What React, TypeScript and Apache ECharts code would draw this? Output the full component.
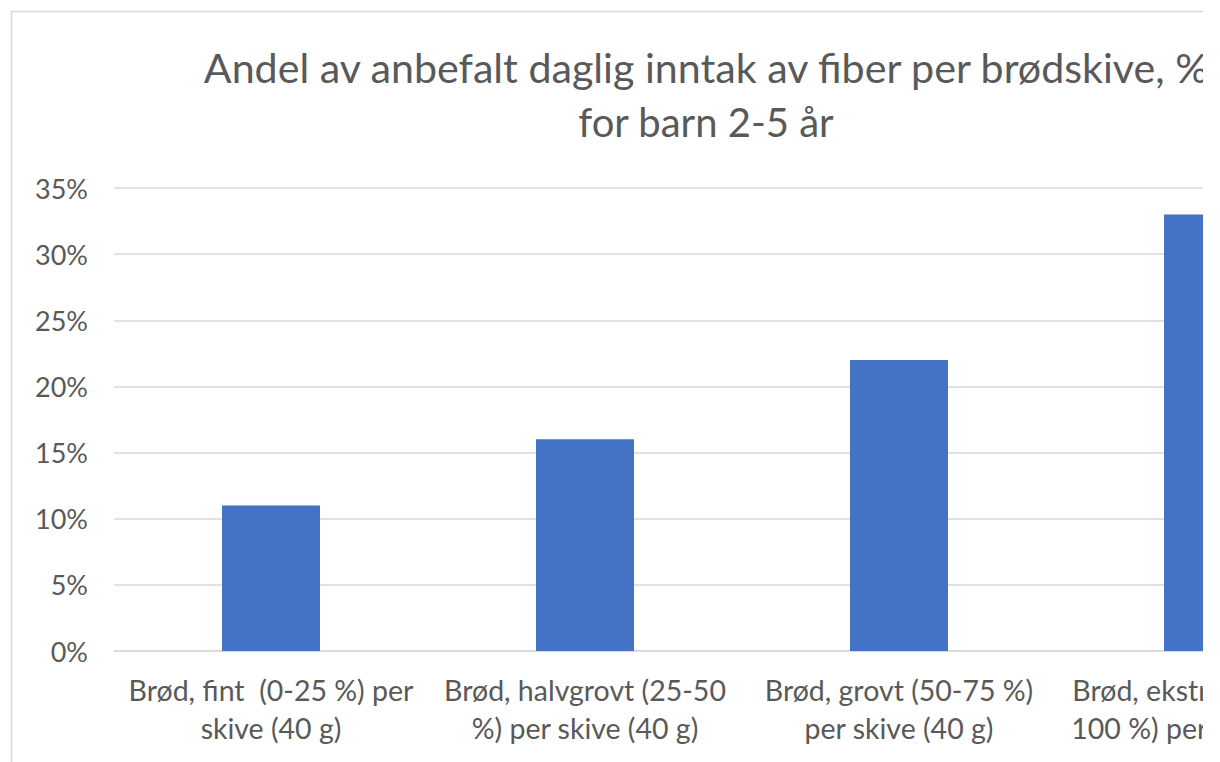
import React, { useEffect, useRef } from "react";
import * as echarts from "echarts";

const titleLine1 = "Andel av anbefalt daglig inntak av fiber per brødskive, %";
const titleLine2 = "for barn 2-5 år";
const categories = [
  "Brød, fint  (0-25 %) per\nskive (40 g)",
  "Brød, halvgrovt (25-50\n%) per skive (40 g)",
  "Brød, grovt (50-75 %)\nper skive (40 g)",
  "Brød, ekstra grovt (75-\n100 %) per skive (40 g)",
];
const values = [11, 16, 22, 33];
const yMax = 35;
const yStep = 5;

const FONT = "Lato";
const TEXT = "#595959";

export default function App() {
  const ref = useRef<HTMLDivElement>(null);
  useEffect(() => {
    if (!ref.current) return;
    const chart = echarts.init(ref.current, null, { renderer: "svg" });
    const titleStyle = {
      fontFamily: FONT,
      fontWeight: "normal",
      color: TEXT,
      lineHeight: 55,
    };
    chart.setOption({
      animation: false,
      backgroundColor: "#ffffff",
      title: [
        {
          text: titleLine1,
          left: "center",
          top: 39,
          padding: 0,
          textStyle: { ...titleStyle, fontSize: 41.2 },
        },
        {
          text: titleLine2,
          left: "center",
          top: 94,
          padding: 0,
          textStyle: { ...titleStyle, fontSize: 40 },
        },
      ],
      graphic: [
        {
          type: "rect",
          shape: { x: 11.5, y: 11.5, width: 1400, height: 900 },
          style: { fill: "none", stroke: "#d9d9d9", lineWidth: 1.5 },
          silent: true,
        },
      ],
      grid: { left: 114, top: 188, right: 42, bottom: 111, containLabel: false },
      xAxis: {
        type: "category",
        data: categories,
        axisLine: { show: true, lineStyle: { color: "#d9d9d9", width: 1.5 } },
        axisTick: { show: false },
        axisLabel: {
          interval: 0,
          margin: 20,
          fontFamily: FONT,
          fontSize: 28.5,
          color: TEXT,
          lineHeight: 38,
          align: "center",
        },
      },
      yAxis: {
        type: "value",
        min: 0,
        max: yMax,
        interval: yStep,
        axisLine: { show: false },
        axisTick: { show: false },
        splitLine: { lineStyle: { color: "#d9d9d9", width: 1.5 } },
        axisLabel: {
          formatter: "{value}%",
          margin: 26,
          fontFamily: FONT,
          fontSize: 27,
          color: TEXT,
        },
      },
      series: [
        {
          type: "bar",
          data: values,
          barWidth: 98,
          itemStyle: { color: "#4472C4" },
        },
      ],
    });
    return () => chart.dispose();
  }, []);
  return (
    <div
      style={{
        position: "fixed",
        left: 0,
        top: 0,
        width: 1203,
        height: 762,
        overflow: "hidden",
        background: "#ffffff",
      }}
    >
      <div ref={ref} style={{ width: 1412, height: 762 }} />
    </div>
  );
}
